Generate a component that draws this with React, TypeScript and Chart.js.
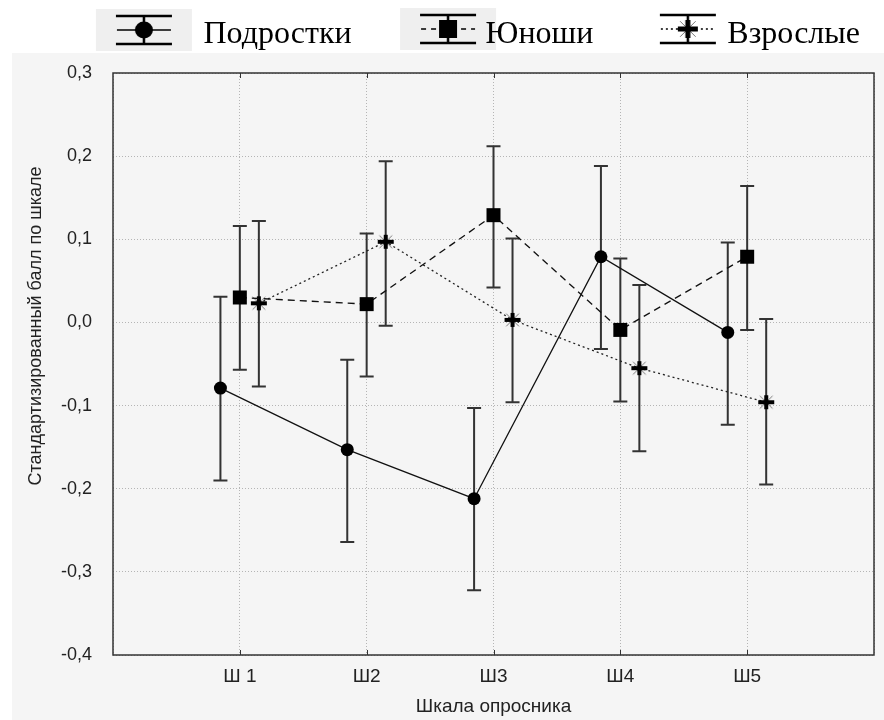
import React, { useEffect, useRef } from 'react';
import { Chart, registerables } from 'chart.js';

Chart.register(...registerables);

const categories = ['Ш 1', 'Ш2', 'Ш3', 'Ш4', 'Ш5'];
const seriesNames = ['Подростки', 'Юноши', 'Взрослые'];

const teenMean = [-0.079, -0.153, -0.212, 0.079, -0.012];
const teenLow = [-0.19, -0.264, -0.322, -0.032, -0.123];
const teenHigh = [0.031, -0.045, -0.103, 0.188, 0.096];

const youthMean = [0.03, 0.022, 0.129, -0.009, 0.079];
const youthLow = [-0.057, -0.065, 0.042, -0.095, -0.009];
const youthHigh = [0.116, 0.107, 0.212, 0.077, 0.164];

const adultMean = [0.023, 0.097, 0.003, -0.055, -0.096];
const adultLow = [-0.077, -0.004, -0.096, -0.155, -0.195];
const adultHigh = [0.122, 0.194, 0.101, 0.045, 0.004];

const yTickValues = [-0.4, -0.3, -0.2, -0.1, 0, 0.1, 0.2, 0.3];
const xTickValues = [0, 1, 2, 3, 4, 5, 6];
const groupOffsets = [-0.153, 0, 0.15];

const xTitle = 'Шкала опросника';
const yTitle = 'Стандартизированный балл по шкале';

const SANS = "'Liberation Sans', Arial, sans-serif";
const SERIF = "'Liberation Serif', 'Times New Roman', serif";

function makeStar(size: number, arm: number, thick: number): HTMLCanvasElement {
  const c = document.createElement('canvas');
  c.width = size;
  c.height = size;
  const g = c.getContext('2d')!;
  const m = size / 2;
  g.strokeStyle = '#777';
  g.lineWidth = 1;
  g.beginPath();
  for (const a of [Math.PI / 4, (3 * Math.PI) / 4, (5 * Math.PI) / 4, (7 * Math.PI) / 4]) {
    g.moveTo(m + Math.cos(a) * 3, m + Math.sin(a) * 3);
    g.lineTo(m + Math.cos(a) * (arm + 1), m + Math.sin(a) * (arm + 1));
  }
  g.stroke();
  g.strokeStyle = '#000';
  g.lineWidth = thick;
  g.beginPath();
  g.moveTo(m - arm, m);
  g.lineTo(m + arm, m);
  g.moveTo(m, m - arm + 1);
  g.lineTo(m, m + arm - 1);
  g.stroke();
  return c;
}

function makeLegendIcon(marker: string, dash: number[], withBg: boolean, dx: number, dy: number): HTMLCanvasElement {
  const c = document.createElement('canvas');
  c.width = 200;
  c.height = 64;
  const g = c.getContext('2d')!;
  const cx = 100 + dx;
  const cy = 32 + dy;
  if (withBg) {
    g.fillStyle = '#efefef';
    g.fillRect(cx - 48, cy - 21, 96, 42);
  }
  g.strokeStyle = '#000';
  g.lineWidth = 2.5;
  g.beginPath();
  g.moveTo(cx - 28, cy - 14);
  g.lineTo(cx + 28, cy - 14);
  g.moveTo(cx - 28, cy + 14);
  g.lineTo(cx + 28, cy + 14);
  g.moveTo(cx, cy - 14);
  g.lineTo(cx, cy + 14);
  g.stroke();
  g.lineWidth = 1.5;
  g.setLineDash(dash);
  g.beginPath();
  g.moveTo(cx - 27, cy);
  g.lineTo(cx + 27, cy);
  g.stroke();
  g.setLineDash([]);
  g.fillStyle = '#000';
  if (marker === 'circle') {
    g.beginPath();
    g.ellipse(cx, cy, 9, 8.5, 0, 0, Math.PI * 2);
    g.fill();
  } else if (marker === 'rect') {
    g.fillRect(cx - 9, cy - 9, 18, 18);
  } else {
    const s = makeStar(28, 10, 5);
    g.drawImage(s, cx - 14, cy - 14);
  }
  return c;
}

function buildPoints(mean: number[], low: number[], high: number[], offset: number) {
  return mean.map((v, i) => ({ x: i + 1 + offset, y: v, low: low[i], high: high[i] }));
}

const backgroundPlugin = {
  id: 'panelBackground',
  beforeDraw(chart: any) {
    const ctx = chart.ctx;
    ctx.save();
    ctx.fillStyle = '#ffffff';
    ctx.fillRect(0, 0, chart.width, chart.height);
    ctx.fillStyle = '#f5f5f5';
    ctx.fillRect(12, 53, chart.width - 12, chart.height - 53);
    ctx.restore();
  },
};

const framePlugin = {
  id: 'frameAndErrors',
  beforeDatasetsDraw(chart: any) {
    const ctx = chart.ctx;
    const { left, right, top, bottom } = chart.chartArea;
    const xs = chart.scales.x;
    const ys = chart.scales.y;
    ctx.save();
    ctx.strokeStyle = '#333';
    ctx.lineWidth = 1.5;
    ctx.strokeRect(left, top, right - left, bottom - top);
    ctx.lineWidth = 1;
    ctx.beginPath();
    for (let i = 1; i <= categories.length; i++) {
      const px = Math.round(xs.getPixelForValue(i)) + 0.5;
      ctx.moveTo(px, bottom);
      ctx.lineTo(px, bottom - 5);
      ctx.moveTo(px, top);
      ctx.lineTo(px, top + 5);
    }
    ctx.stroke();
    ctx.strokeStyle = '#333';
    ctx.lineWidth = 2;
    chart.data.datasets.forEach((ds: any) => {
      ds.data.forEach((p: any) => {
        const px = xs.getPixelForValue(p.x);
        const pl = ys.getPixelForValue(p.low);
        const ph = ys.getPixelForValue(p.high);
        ctx.beginPath();
        ctx.moveTo(px, pl);
        ctx.lineTo(px, ph);
        ctx.moveTo(px - 7, pl);
        ctx.lineTo(px + 7, pl);
        ctx.moveTo(px - 7, ph);
        ctx.lineTo(px + 7, ph);
        ctx.stroke();
      });
    });
    ctx.restore();
  },
  afterDraw(chart: any) {
    const ctx = chart.ctx;
    ctx.save();
    ctx.translate(36, 326);
    ctx.rotate(-Math.PI / 2);
    ctx.fillStyle = '#222';
    ctx.font = `18px ${SANS}`;
    ctx.textAlign = 'center';
    ctx.textBaseline = 'middle';
    ctx.fillText(yTitle, 0, 0);
    ctx.restore();
  },
};

export default function App() {
  const ref = useRef<HTMLCanvasElement | null>(null);

  useEffect(() => {
    if (!ref.current) return;
    const starImg = makeStar(22, 8, 4);
    const legendIcons = [
      makeLegendIcon('circle', [], true, 6, -5),
      makeLegendIcon('rect', [5, 5], true, 28, -6),
      makeLegendIcon('star', [2, 3], false, 26, -6),
    ];

    const chart = new Chart(ref.current, {
      type: 'scatter',
      data: {
        datasets: [
          {
            label: seriesNames[0],
            data: buildPoints(teenMean, teenLow, teenHigh, groupOffsets[0]),
            showLine: true,
            borderColor: '#111',
            borderWidth: 1.3,
            pointStyle: 'circle',
            pointRadius: 6.5,
            pointBackgroundColor: '#000',
            pointBorderColor: '#000',
            pointBorderWidth: 0,
          },
          {
            label: seriesNames[1],
            data: buildPoints(youthMean, youthLow, youthHigh, groupOffsets[1]),
            showLine: true,
            borderColor: '#111',
            borderWidth: 1.3,
            borderDash: [7, 5],
            pointStyle: 'rect',
            pointRadius: 9.9,
            pointBackgroundColor: '#000',
            pointBorderColor: '#000',
            pointBorderWidth: 0,
          },
          {
            label: seriesNames[2],
            data: buildPoints(adultMean, adultLow, adultHigh, groupOffsets[2]),
            showLine: true,
            borderColor: '#222',
            borderWidth: 1.3,
            borderDash: [2, 3],
            pointStyle: starImg as any,
            pointRadius: 8,
            pointBackgroundColor: '#000',
            pointBorderColor: '#000',
          },
        ] as any,
      },
      options: {
        responsive: false,
        animation: false,
        devicePixelRatio: 1,
        layout: { padding: { top: 0, right: 5, left: 0, bottom: 0 } },
        plugins: {
          tooltip: { enabled: false },
          legend: {
            position: 'top',
            align: 'end',
            labels: {
              usePointStyle: true,
              pointStyleWidth: 99,
              padding: 19,
              color: '#000',
              font: { family: SERIF, size: 32 },
              generateLabels: (c: any) => {
                const items = (Chart.defaults.plugins.legend.labels as any).generateLabels(c);
                items.forEach((it: any, i: number) => {
                  it.pointStyle = legendIcons[i];
                });
                return items;
              },
            },
          },
        },
        scales: {
          x: {
            type: 'linear',
            min: 0,
            max: 6,
            afterBuildTicks: (s: any) => {
              s.ticks = xTickValues.map((v) => ({ value: v }));
            },
            afterFit: (s: any) => {
              s.height = 65;
            },
            ticks: {
              color: '#222',
              font: { family: SANS, size: 19 },
              padding: 10,
              maxRotation: 0,
              autoSkip: false,
              callback: (v: any) => {
                const n = Math.round(Number(v));
                return n >= 1 && n <= categories.length ? categories[n - 1] : '';
              },
            },
            grid: { color: '#b5b5b5', lineWidth: 1, drawTicks: false },
            border: { display: false, dash: [1, 2] },
            title: {
              display: true,
              text: xTitle,
              color: '#222',
              font: { family: SANS, size: 19 },
              padding: { top: 0, bottom: 2 },
            },
          },
          xTop: {
            type: 'linear',
            position: 'top',
            min: 0,
            max: 6,
            ticks: { display: false },
            grid: { display: false, drawTicks: false },
            border: { display: false },
            afterFit: (s: any) => {
              s.height = 12;
            },
          },
          y: {
            type: 'linear',
            min: -0.4,
            max: 0.3,
            afterBuildTicks: (s: any) => {
              s.ticks = yTickValues.map((v) => ({ value: v }));
            },
            afterFit: (s: any) => {
              s.width = 113;
            },
            ticks: {
              color: '#222',
              font: { family: SANS, size: 18 },
              padding: 21,
              callback: (v: any) => {
                const n = Number(v);
                if (Math.abs(n) < 1e-9) return '0,0';
                return n.toFixed(1).replace('.', ',');
              },
            },
            grid: { color: '#b5b5b5', lineWidth: 1, drawTicks: false },
            border: { display: false, dash: [1, 2] },
          },
        },
      },
      plugins: [backgroundPlugin, framePlugin],
    } as any);
    return () => chart.destroy();
  }, []);

  return (
    <div style={{ position: 'absolute', left: 0, top: 0, width: 884, height: 720 }}>
      <canvas ref={ref} width={884} height={720} style={{ display: 'block' }} />
    </div>
  );
}
